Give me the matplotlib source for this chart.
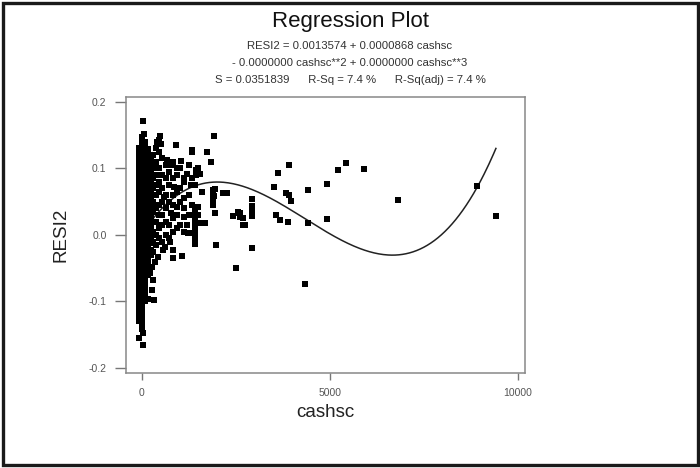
import numpy as np
import matplotlib.pyplot as plt
from matplotlib.patches import Rectangle

plt.rcParams['font.family'] = ['Liberation Sans', 'DejaVu Sans']

# dense cloud near cashsc = 0: one column of residuals per cashsc value
core_x = [-80, 0, 80, 160, 240]
core_y = [
    [-0.130, -0.124, -0.117, -0.111, -0.104, -0.098, -0.091, -0.085, -0.078, -0.072, -0.065,
     -0.059, -0.052, -0.046, -0.039, -0.033, -0.026, -0.020, -0.013, -0.007, 0.000, 0.006,
     0.013, 0.019, 0.026, 0.032, 0.039, 0.045, 0.052, 0.058, 0.065, 0.071, 0.078, 0.084,
     0.091, 0.097, 0.104, 0.110, 0.117, 0.123, 0.130],
    [-0.138, -0.132, -0.126, -0.119, -0.113, -0.106, -0.100, -0.094, -0.087, -0.081, -0.074,
     -0.068, -0.061, -0.055, -0.049, -0.042, -0.036, -0.029, -0.023, -0.016, -0.010, -0.003,
     0.003, 0.010, 0.016, 0.023, 0.029, 0.036, 0.042, 0.049, 0.055, 0.061, 0.068, 0.074,
     0.081, 0.087, 0.094, 0.100, 0.107, 0.113, 0.120, 0.126, 0.133, 0.139],
    [-0.100, -0.094, -0.087, -0.081, -0.074, -0.068, -0.061, -0.055, -0.048, -0.042, -0.035,
     -0.029, -0.022, -0.016, -0.009, -0.003, 0.004, 0.010, 0.017, 0.023, 0.030, 0.036,
     0.043, 0.049, 0.056, 0.062, 0.069, 0.075, 0.082, 0.088, 0.095, 0.101, 0.108, 0.114,
     0.121, 0.127, 0.134, 0.140],
    [-0.060, -0.053, -0.047, -0.040, -0.034, -0.027, -0.021, -0.014, -0.008, -0.001, 0.005,
     0.012, 0.018, 0.025, 0.031, 0.038, 0.044, 0.051, 0.057, 0.064, 0.070, 0.077, 0.083,
     0.090, 0.096, 0.103, 0.109, 0.116, 0.122, 0.129],
    [-0.030, -0.022, -0.012, -0.004, 0.006, 0.014, 0.022, 0.031, 0.040, 0.047, 0.055, 0.064,
     0.071, 0.080, 0.088, 0.097, 0.105, 0.114],
]

# the scattered points around the cloud
cashsc = [27, 53, 10, -8, -72, 19, 30,
          300, 300, 300, 300, 300, 300, 300, 300, 300, 300,
          380, 380, 380, 380, 380, 380, 380, 380, 380,
          460, 460, 460, 460, 460, 460, 460, 460,
          540, 540, 540, 540, 540, 540, 540,
          640, 640, 640, 640, 640, 640,
          720, 720, 720, 720, 720,
          820, 820, 820, 820, 820, 820,
          920, 920, 920, 920,
          1020, 1020, 1020, 1020,
          1120, 1120, 1120, 1120,
          1250, 1250, 1250,
          1330, 1330,
          407, 479, 497, 444, 896, 1029, 1338, 1428, 1428, 1205, 939, 673, 763, 1117, 851, 1295,
          1117, 1205, 1250, 939, 763, 585,
          1915, 1721, 1835, 1322, 1498, 1543, 1410, 1588, 1897, 1897, 1897, 1897, 2253, 1942,
          1498, 1498, 2562, 2607, 2740, 1543, 1676,
          1410, 1410, 1410, 1410, 1410, 1410, 1410, 1410, 1410,
          1968, 2500, 817, 817, 1072, 620, 745, 1232, 266, 168, 319, 301, 213, 258, 346, 434, 567,
          3918, 3626, 5426, 5222, 5905, 3511, 4424, 4913, 3822, 3910, 3963, 6818,
          2918, 2918, 2918, 2918, 2918, 2607, 2679, 2679, 3564, 3679, 3876, 4424, 4913,
          2918, 4336, 8903, 9416, 1942, 1915, 2163, 2429, 2562]
resi2 = [0.171, 0.152, 0.147, -0.142, -0.155, -0.165, -0.148,
         0.120, 0.100, 0.085, 0.070, 0.050, 0.035, 0.020, 0.005, -0.010, -0.025,
         0.130, 0.110, 0.090, 0.075, 0.060, 0.040, 0.020, 0.000, -0.015,
         0.125, 0.100, 0.080, 0.065, 0.045, 0.030, 0.010, -0.005,
         0.115, 0.090, 0.070, 0.050, 0.030, 0.015, -0.010,
         0.105, 0.085, 0.060, 0.040, 0.020, 0.000,
         0.095, 0.075, 0.050, 0.015, -0.005,
         0.110, 0.085, 0.060, 0.045, 0.025, 0.005,
         0.090, 0.065, 0.030, 0.010,
         0.100, 0.070, 0.050, 0.015,
         0.085, 0.055, 0.040, 0.005,
         0.105, 0.060, 0.030,
         0.085, 0.045,
         0.140, 0.148, 0.137, 0.142, 0.135, 0.111, 0.125, 0.097, 0.090, 0.092, 0.100, 0.112,
         0.105, 0.080, 0.072, 0.075,
         0.027, 0.015, 0.0025, 0.042, 0.033, 0.057,
         0.148, 0.125, 0.109, 0.127, 0.100, 0.092, 0.075, 0.065, 0.067, 0.060, 0.052, 0.045,
         0.0625, 0.0325, 0.042, 0.030, 0.035, 0.0275, 0.015, 0.0175, 0.0175,
         0.042, 0.034, 0.026, 0.018, 0.010, 0.0025, -0.0025, -0.0075, -0.0135,
         -0.0155, -0.050, -0.0225, -0.0345, -0.031, -0.0185, -0.010, 0.0025, -0.0825, -0.096,
         -0.0975, -0.0675, -0.0575, -0.0475, -0.040, -0.0325, -0.0225,
         0.1045, 0.0925, 0.108, 0.097, 0.0985, 0.0715, 0.0675, 0.076, 0.063, 0.0595, 0.0515,
         0.052,
         0.054, 0.0435, 0.035, 0.0315, 0.0285, 0.0325, 0.025, 0.015, 0.030, 0.023, 0.019,
         0.0175, 0.024,
         -0.020, -0.0735, 0.0735, 0.029, 0.0685, 0.0585, 0.0625, 0.0285, 0.0335]

# cubic fit: constant, linear, quadratic, cubic
coef = [0.0013574, 0.0000868, -2.82e-8, 2.17e-12]
x_ticks = [0, 5000, 10000]
y_ticks = [-0.2, -0.1, 0.0, 0.1, 0.2]

xs, ys = [], []
for cx, col in zip(core_x, core_y):
    xs += [cx] * len(col)
    ys += col
xs += cashsc
ys += resi2

fig = plt.figure(figsize=(7, 4.68), dpi=100)
ax = fig.add_axes([0.18, 0.203, 0.57, 0.59])

xf = np.linspace(0, max(cashsc), 300)
yf = coef[0] + coef[1] * xf + coef[2] * xf**2 + coef[3] * xf**3
ax.plot(xf, yf, color='#222222', lw=1.1, zorder=1)

ax.plot(xs, ys, 's', color='black', markersize=3.8, markeredgewidth=0, zorder=2)

ax.set_xlim(-425, 10190)
ax.set_ylim(-0.2075, 0.2075)
ax.set_xticks(x_ticks)
ax.set_xticklabels([str(t) for t in x_ticks])
ax.set_yticks(y_ticks)
ax.set_yticklabels(['-0.2', '-0.1', '0.0', '0.1', '0.2'])
ax.tick_params(axis='x', length=5, width=1, color='#777777', labelcolor='#555555',
               labelsize=7.5, pad=6)
ax.tick_params(axis='y', length=8, width=1, color='#777777', labelcolor='#555555',
               labelsize=7.5, pad=6)
for s in ax.spines.values():
    s.set_color('#888888')
    s.set_linewidth(1.1)

ax.set_xlabel('cashsc', fontsize=13.5, color='#222222', labelpad=4)
ax.set_ylabel('RESI2', fontsize=13.5, color='#222222', labelpad=14)

fig.text(0.5, 0.955, 'Regression Plot', ha='center', va='center', fontsize=16, color='#111111')
fig.text(0.5, 0.902, 'RESI2 = 0.0013574 + 0.0000868 cashsc', ha='center', va='center',
         fontsize=8.2, color='#333333')
fig.text(0.5, 0.866, '- 0.0000000 cashsc**2 + 0.0000000 cashsc**3', ha='center', va='center',
         fontsize=8.2, color='#333333')
fig.text(0.5, 0.830, 'S = 0.0351839      R-Sq = 7.4 %      R-Sq(adj) = 7.4 %', ha='center',
         va='center', fontsize=8.2, color='#333333')

fig.patches.append(Rectangle((3.3 / 700, 3.3 / 468), 695 / 700, 461.5 / 468,
                             transform=fig.transFigure, fill=False, edgecolor='#1a1a1a',
                             linewidth=2.4))

plt.savefig('out.png', dpi=100)
